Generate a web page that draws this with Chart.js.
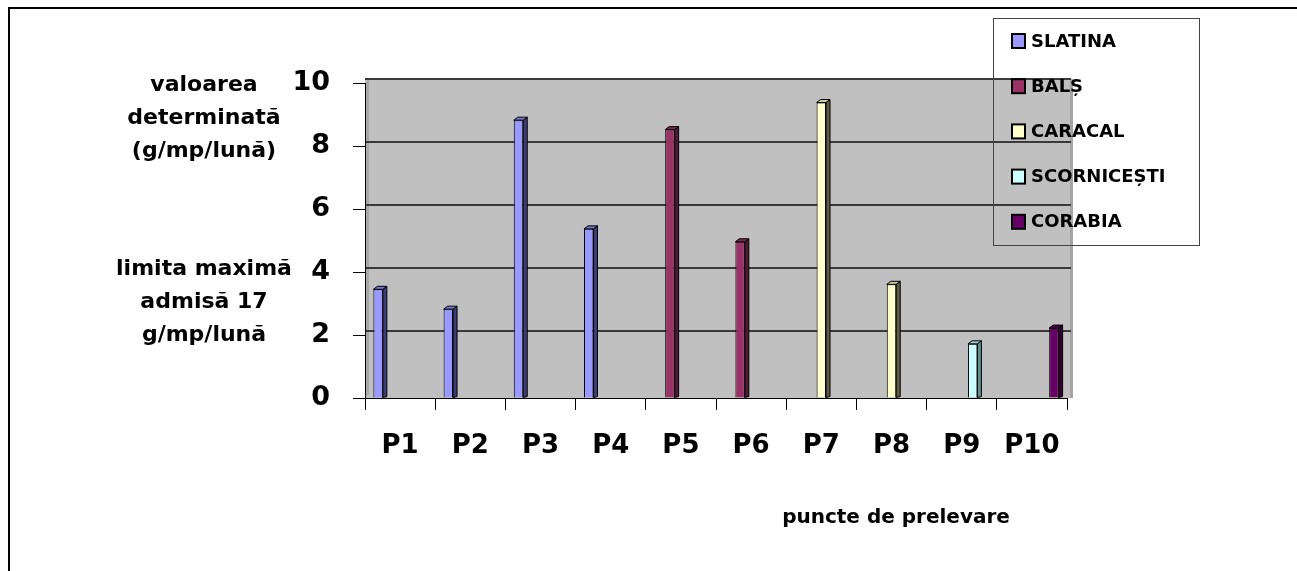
<!DOCTYPE html>
<html><head><meta charset="utf-8">
<script src="https://cdn.jsdelivr.net/npm/chart.js@4"></script>
<style>html,body{margin:0;padding:0;background:#fff}canvas{display:block}</style>
</head><body>
<canvas id="c" width="1297" height="571"></canvas>
<script>
const categories = ['P1','P2','P3','P4','P5','P6','P7','P8','P9','P10'];
const seriesNames = ['SLATINA','BALȘ','CARACAL','SCORNICEȘTI','CORABIA'];
const slatina     = [3.45, 2.82, 8.82, 5.37, null, null, null, null, null, null];
const bals        = [null, null, null, null, 8.52, 4.96, null, null, null, null];
const caracal     = [null, null, null, null, null, null, 9.38, 3.61, null, null];
const scornicesti = [null, null, null, null, null, null, null, null, 1.72, null];
const corabia     = [null, null, null, null, null, null, null, null, null, 2.22];
const yTicks = [0, 2, 4, 6, 8, 10];
const yLabelTop = ['valoarea', 'determinată', '(g/mp/lună)'];
const yLabelBottom = ['limita maximă', 'admisă 17', 'g/mp/lună'];
const xTitle = 'puncte de prelevare';

const frontColors = ['#9999FF', '#993366', '#FFFFCC', '#CCFFFF', '#660066'];
const sideColors  = ['#3d3d75', '#4d1a33', '#5c5c45', '#5f8f8f', '#330033'];
const topColors   = ['#7777cc', '#7a2852', '#cccca3', '#a3cccc', '#520052'];
const seriesData = [slatina, bals, caracal, scornicesti, corabia];

const FONT = '"DejaVu Sans", sans-serif';
const DEPTH = 4;

const bgPlugin = {
  id: 'bg',
  beforeDraw(chart) {
    const {ctx, chartArea: a, scales: {y}} = chart;
    ctx.save();
    ctx.strokeStyle = '#000'; ctx.lineWidth = 2;
    ctx.beginPath(); ctx.moveTo(9, 575); ctx.lineTo(9, 8); ctx.lineTo(1300, 8); ctx.stroke();
    ctx.fillStyle = '#c0c0c0';
    ctx.fillRect(a.left, a.top - DEPTH, a.right - a.left + DEPTH + 1, a.bottom - a.top + DEPTH);
    ctx.fillStyle = '#a8a8a8';
    ctx.beginPath();
    ctx.moveTo(a.left, a.top); ctx.lineTo(a.left + DEPTH, a.top - DEPTH);
    ctx.lineTo(a.left + DEPTH, a.bottom - DEPTH); ctx.lineTo(a.left, a.bottom); ctx.closePath(); ctx.fill();
    ctx.fillStyle = '#a4a4a4';
    ctx.fillRect(a.right + DEPTH - 1, a.top - DEPTH, 3, a.bottom - a.top + DEPTH);
    ctx.strokeStyle = '#3a3a3a'; ctx.lineWidth = 2;
    yTicks.forEach(v => {
      if (v === 0) return;
      const py = Math.round(y.getPixelForValue(v)) - DEPTH;
      ctx.beginPath(); ctx.moveTo(a.left, py); ctx.lineTo(a.right + DEPTH, py); ctx.stroke();
    });
    ctx.restore();
  }
};

const bar3dPlugin = {
  id: 'bar3d',
  afterDatasetsDraw(chart) {
    const ctx = chart.ctx;
    ctx.save();
    chart.data.datasets.forEach((ds, di) => {
      const meta = chart.getDatasetMeta(di);
      meta.data.forEach((el, i) => {
        if (ds.data[i] === null || ds.data[i] === undefined) return;
        const {x, y, width, base} = el.getProps(['x','y','width','base'], true);
        const l = x - width / 2, r = x + width / 2;
        ctx.lineWidth = 1; ctx.strokeStyle = '#000';
        ctx.fillStyle = sideColors[di];
        ctx.beginPath();
        ctx.moveTo(r, y); ctx.lineTo(r + DEPTH, y - DEPTH + 1); ctx.lineTo(r + DEPTH, base - 1); ctx.lineTo(r, base);
        ctx.closePath(); ctx.fill(); ctx.stroke();
        ctx.fillStyle = topColors[di];
        ctx.beginPath();
        ctx.moveTo(l, y); ctx.lineTo(l + DEPTH, y - DEPTH + 1); ctx.lineTo(r + DEPTH, y - DEPTH + 1); ctx.lineTo(r, y);
        ctx.closePath(); ctx.fill(); ctx.stroke();
      });
    });
    ctx.restore();
  }
};

const textPlugin = {
  id: 'texts',
  afterDraw(chart) {
    const ctx = chart.ctx;
    ctx.save();
    ctx.fillStyle = '#000';
    ctx.textAlign = 'center'; ctx.textBaseline = 'alphabetic';
    ctx.font = 'bold 22px ' + FONT;
    const topBase = [91, 124, 157], botBase = [275, 308, 341];
    yLabelTop.forEach((t, i) => ctx.fillText(t, 204, topBase[i]));
    yLabelBottom.forEach((t, i) => ctx.fillText(t, 204, botBase[i]));
    ctx.font = 'bold 20px ' + FONT;
    ctx.fillText(xTitle, 896, 523);
    // legend
    ctx.strokeStyle = '#444'; ctx.lineWidth = 1;
    ctx.strokeRect(993.5, 18.5, 206, 227);
    ctx.font = 'bold 18px ' + FONT;
    ctx.textAlign = 'left'; ctx.textBaseline = 'middle';
    chart.data.datasets.forEach((ds, i) => {
      const cy = 41 + i * 45.2;
      ctx.fillStyle = frontColors[i];
      ctx.fillRect(1012, cy - 7, 13, 14);
      ctx.strokeStyle = '#000'; ctx.lineWidth = 2;
      ctx.strokeRect(1012, cy - 7, 13, 14);
      ctx.fillStyle = '#000';
      ctx.fillText(ds.label, 1031, cy + 1);
    });
    ctx.restore();
  }
};

new Chart(document.getElementById('c'), {
  type: 'bar',
  data: {
    labels: categories,
    datasets: seriesNames.map((n, i) => ({
      label: n,
      data: seriesData[i],
      backgroundColor: frontColors[i],
      borderColor: '#000',
      borderWidth: 1,
      categoryPercentage: 0.783,
      barPercentage: 0.86
    }))
  },
  options: {
    responsive: false,
    devicePixelRatio: 1,
    animation: false,
    layout: {padding: {left: 0, right: 230, top: 83, bottom: 0}},
    plugins: {legend: {display: false}, tooltip: {enabled: false}, title: {display: false}},
    scales: {
      x: {
        offset: true,
        grid: {display: true, drawOnChartArea: false, drawTicks: true, tickLength: 12, color: '#000', lineWidth: 1, offset: true},
        border: {display: true, color: '#000', width: 1},
        ticks: {color: '#000', font: {family: FONT, size: 26, weight: 'bold'}, padding: 21, autoSkip: false, maxRotation: 0},
        afterFit(s) { s.height = 173; }
      },
      y: {
        min: 0, max: 10,
        grid: {display: true, drawOnChartArea: false, drawTicks: true, tickLength: 12, color: '#000', lineWidth: 1},
        border: {display: true, color: '#000', width: 1},
        ticks: {stepSize: 2, color: '#000', font: {family: FONT, size: 27, weight: 'bold'}, padding: 23},
        afterFit(s) { s.width = 365; }
      }
    }
  },
  plugins: [bgPlugin, bar3dPlugin, textPlugin]
});
</script>
</body></html>
